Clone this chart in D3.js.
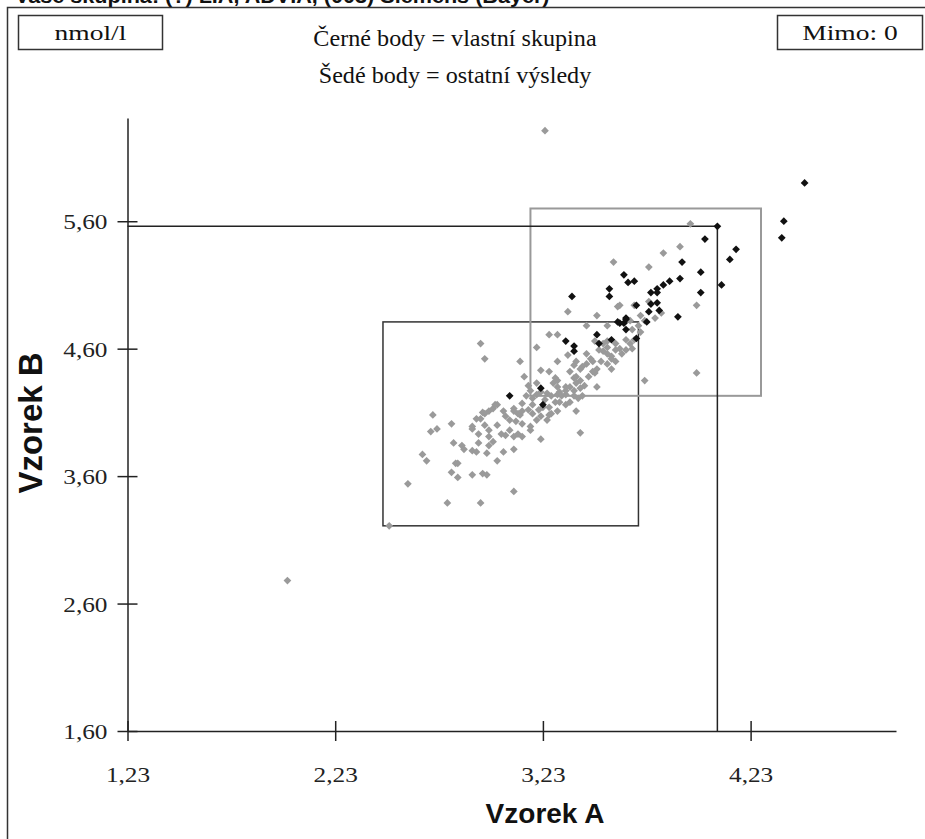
<!DOCTYPE html>
<html>
<head>
<meta charset="utf-8">
<script src="https://cdn.jsdelivr.net/npm/d3@7"></script>
<style>
  html, body { margin: 0; padding: 0; background: #fff; }
  svg { display: block; }
</style>
</head>
<body>
<div id="chart"></div>
<script>
// ---------- data ----------
const titleText = "Vaše skupina: (?) LIA, ADVIA, (003) Siemens (Bayer)";
const unitLabel = "nmol/l";
const outsideLabel = "Mimo: 0";
const legendBlack = "Černé body = vlastní skupina";
const legendGray = "Šedé body = ostatní výsledy";
const xTitle = "Vzorek A";
const yTitle = "Vzorek B";
const xTicks = [1.23, 2.23, 3.23, 4.23];
const yTicks = [1.60, 2.60, 3.60, 4.60, 5.60];
const xDomain = [1.23, 4.93];
const yDomain = [1.60, 6.41];

// own group (black) points [A, B]
const ownPoints = [
  [4.07,5.56],[4.39,5.60],[4.38,5.47],[4.01,5.46],[4.16,5.38],[4.13,5.30],[3.90,5.28],
  [3.99,5.20],[3.62,5.18],[3.64,5.12],[3.67,5.13],[3.89,5.15],[3.84,5.13],[3.81,5.10],
  [4.09,5.10],[3.55,5.07],[3.78,5.07],[3.75,5.04],[3.78,5.04],[3.99,5.04],[3.37,5.01],
  [3.55,5.01],[3.75,4.95],[3.78,4.96],[3.68,4.94],[3.79,4.90],[3.74,4.89],[3.88,4.85],
  [3.63,4.84],[3.59,4.81],[3.60,4.80],[3.62,4.80],[3.73,4.81],[3.63,4.75],[3.49,4.71],
  [3.34,4.66],[3.56,4.67],[3.68,4.68],[3.38,4.62],[3.38,4.58],[3.50,4.64],[3.22,4.29],
  [3.07,4.23],[3.23,4.16],[4.49,5.90],[3.63,4.83]
];

// other results (gray) points [A, B]
const otherPoints = [
  [3.24,6.31],[2.00,2.78],[2.49,3.21],[3.94,5.58],[3.89,5.40],[3.81,5.35],[3.57,5.28],
  [3.74,5.24],[3.74,4.97],[3.60,4.94],[3.97,4.94],[3.35,4.89],[3.49,4.86],[3.67,4.94],
  [3.59,4.93],[3.44,4.78],[3.54,4.78],[3.69,4.78],[3.26,4.71],[3.30,4.71],[3.70,4.73],
  [3.66,4.75],[2.93,4.64],[3.48,4.66],[3.54,4.66],[3.58,4.64],[3.63,4.67],[3.66,4.60],
  [3.20,4.61],[2.95,4.52],[3.12,4.50],[3.30,4.50],[3.35,4.55],[3.39,4.50],[3.38,4.47],
  [3.41,4.44],[3.44,4.48],[3.47,4.50],[3.49,4.44],[3.48,4.41],[3.52,4.58],[3.54,4.56],
  [3.56,4.54],[3.58,4.59],[3.60,4.60],[3.51,4.50],[3.54,4.48],[3.56,4.44],[3.22,4.43],
  [3.14,4.38],[3.26,4.42],[3.29,4.37],[3.30,4.35],[3.28,4.33],[3.36,4.42],[3.38,4.37],
  [3.39,4.38],[3.41,4.35],[3.34,4.30],[3.36,4.30],[3.38,4.27],[3.43,4.31],[3.49,4.30],
  [3.72,4.35],[3.97,4.41],[3.20,4.33],[3.15,4.23],[3.18,4.21],[3.20,4.24],[3.25,4.25],
  [3.27,4.23],[3.30,4.24],[3.32,4.23],[3.34,4.24],[3.38,4.23],[3.40,4.21],[3.42,4.23],
  [3.13,4.17],[3.18,4.16],[3.26,4.14],[3.31,4.18],[3.34,4.16],[3.39,4.11],[3.01,4.16],
  [2.99,4.13],[3.04,4.11],[3.09,4.13],[3.12,4.08],[3.07,4.04],[2.91,4.05],[2.95,4.09],
  [2.89,3.99],[3.18,4.09],[3.22,4.07],[3.25,4.04],[3.26,4.08],[2.70,4.08],[3.00,4.16],
  [2.97,4.11],[2.94,4.10],[3.09,4.11],[3.11,4.09],[3.13,4.11],[3.16,4.12],[3.21,4.12],
  [3.23,4.14],[3.05,4.07],[3.10,4.03],[3.13,4.01],[3.17,3.99],[3.20,4.04],[3.27,4.09],
  [3.30,4.11],[2.79,4.01],[2.69,3.95],[2.72,3.97],[2.92,3.93],[2.95,4.00],[2.97,3.96],
  [3.01,4.00],[3.03,3.93],[3.05,3.92],[3.07,3.96],[3.09,3.91],[3.11,3.93],[3.13,3.91],
  [3.17,3.96],[2.97,3.91],[2.99,3.87],[2.97,3.84],[3.22,3.89],[2.92,3.86],[2.80,3.86],
  [2.84,3.84],[2.85,3.81],[2.89,3.80],[2.91,3.79],[2.96,3.78],[3.04,3.79],[3.09,3.81],
  [3.01,3.72],[2.65,3.77],[2.67,3.72],[2.81,3.70],[2.82,3.70],[2.79,3.63],[2.82,3.59],
  [2.89,3.61],[2.94,3.62],[2.96,3.61],[2.58,3.54],[3.09,3.48],[2.77,3.39],[2.93,3.39],
  [3.41,3.94],[3.52,4.64],[3.50,4.59],[3.54,4.61],[3.56,4.52],[3.58,4.50],[3.61,4.56],
  [3.63,4.59],[3.65,4.64],[3.67,4.67],[3.44,4.56],[3.46,4.52],[3.42,4.46],[3.47,4.42],
  [3.45,4.38],[3.39,4.33],[3.41,4.29],[3.34,4.27],[3.31,4.26],[3.30,4.30],[3.24,4.20],
  [3.29,4.18],[3.36,4.18],[3.22,4.26],[3.17,4.27],[3.16,4.31],[3.72,4.82],[3.77,4.84],
  [3.80,4.88],[3.70,4.86],[3.65,4.82],[2.89,3.97],[2.93,4.05]
];

// reference ranges and target
const ownRange = { a: [3.17, 4.28], b: [4.23, 5.70] };   // gray box
const allRange = { a: [2.46, 3.69], b: [3.21, 4.81] };   // black box
const target = { a: 4.07, b: 5.56 };

// ---------- drawing ----------
const W = 925, H = 839;
const svg = d3.select("#chart").append("svg").attr("width", W).attr("height", H);

const serif = "'Liberation Serif', 'Times New Roman', serif";
const sans = "'Liberation Sans', Arial, sans-serif";
const fmt = v => d3.format(".2f")(v).replace(".", ",");

// widen text horizontally (reference glyphs are wider than the font)
function widen(sel, f) {
  sel.each(function () {
    const L = this.getComputedTextLength();
    d3.select(this).attr("textLength", L * f).attr("lengthAdjust", "spacingAndGlyphs");
  });
}

// title (clipped at top)
const tt = svg.append("text").attr("x", 15).attr("y", 3)
  .attr("font-family", sans).attr("font-weight", "bold").attr("font-size", 20)
  .attr("fill", "#111").text(titleText);
widen(tt, 1.08);

// outer frame
svg.append("rect").attr("x", 7.5).attr("y", 7.5).attr("width", W).attr("height", H)
  .attr("fill", "none").attr("stroke", "#333").attr("stroke-width", 1.5);

// header boxes
function box(x, y, w, h, label) {
  svg.append("rect").attr("x", x).attr("y", y).attr("width", w).attr("height", h)
    .attr("fill", "#fff").attr("stroke", "#333").attr("stroke-width", 1.5);
  const t = svg.append("text").attr("x", x + w / 2).attr("y", y + h / 2).attr("dy", "0.35em")
    .attr("text-anchor", "middle").attr("font-family", serif).attr("font-size", 22)
    .attr("fill", "#111").text(label);
  widen(t, 1.25);
}
box(18.5, 15.5, 144, 34, unitLabel);
box(777.5, 15.5, 145, 34, outsideLabel);

const l1 = svg.append("text").attr("x", 455).attr("y", 38).attr("dy", "0.35em")
  .attr("text-anchor", "middle").attr("font-family", serif).attr("font-size", 23)
  .attr("fill", "#111").text(legendBlack);
const l2 = svg.append("text").attr("x", 455).attr("y", 75).attr("dy", "0.35em")
  .attr("text-anchor", "middle").attr("font-family", serif).attr("font-size", 23)
  .attr("fill", "#111").text(legendGray);
widen(l1, 1.05);
widen(l2, 1.05);

const x = d3.scaleLinear().domain(xDomain).range([127.5, 896]);
const y = d3.scaleLinear().domain(yDomain).range([731, 118]);

// reference boxes
svg.append("rect")
  .attr("x", x(allRange.a[0])).attr("y", y(allRange.b[1]))
  .attr("width", x(allRange.a[1]) - x(allRange.a[0]))
  .attr("height", y(allRange.b[0]) - y(allRange.b[1]))
  .attr("fill", "none").attr("stroke", "#333").attr("stroke-width", 1.5);
svg.append("rect")
  .attr("x", x(ownRange.a[0])).attr("y", y(ownRange.b[1]))
  .attr("width", x(ownRange.a[1]) - x(ownRange.a[0]))
  .attr("height", y(ownRange.b[0]) - y(ownRange.b[1]))
  .attr("fill", "none").attr("stroke", "#999").attr("stroke-width", 2);

// target lines
svg.append("path")
  .attr("d", `M${x(xDomain[0])},${y(target.b)}H${x(target.a)}V${y(yDomain[0])}`)
  .attr("fill", "none").attr("stroke", "#222").attr("stroke-width", 1.5);

// axes
const xAxis = d3.axisBottom(x).tickValues(xTicks).tickFormat(fmt).tickSizeOuter(0).tickSizeInner(10);
const gx = svg.append("g").attr("transform", `translate(0,${y(yDomain[0])})`).call(xAxis);
gx.select(".domain").attr("stroke", "#222").attr("stroke-width", 1.5);
gx.selectAll(".tick line").attr("y1", -10).attr("y2", 10).attr("stroke", "#222").attr("stroke-width", 1.5);
gx.selectAll(".tick text").attr("y", 43).attr("dy", "0.35em")
  .attr("font-family", serif).attr("font-size", 22).attr("fill", "#222");
widen(gx.selectAll(".tick text"), 1.15);

const yAxis = d3.axisLeft(y).tickValues(yTicks).tickFormat(fmt).tickSizeOuter(0).tickSizeInner(10);
const gy = svg.append("g").attr("transform", `translate(${x(xDomain[0])},0)`).call(yAxis);
gy.select(".domain").attr("stroke", "#222").attr("stroke-width", 1.5);
gy.selectAll(".tick line").attr("x1", -10).attr("x2", 10).attr("stroke", "#222").attr("stroke-width", 1.5);
gy.selectAll(".tick text").attr("x", -20).attr("dy", "0.35em")
  .attr("font-family", serif).attr("font-size", 22).attr("fill", "#222");
widen(gy.selectAll(".tick text"), 1.15);

// axis titles
svg.append("text").attr("x", 545).attr("y", 813).attr("dy", "0.35em")
  .attr("text-anchor", "middle").attr("font-family", sans).attr("font-weight", "bold")
  .attr("font-size", 28).attr("fill", "#111").text(xTitle);
svg.append("text").attr("transform", "translate(30,423) rotate(-90)").attr("dy", "0.35em")
  .attr("text-anchor", "middle").attr("font-family", sans).attr("font-weight", "bold")
  .attr("font-size", 33).attr("fill", "#111").text(yTitle);

// points
const sym = d3.symbol().type(d3.symbolSquare).size(30);
svg.append("g").selectAll("path").data(otherPoints).join("path")
  .attr("d", sym)
  .attr("transform", d => `translate(${x(d[0])},${y(d[1])}) rotate(45)`)
  .attr("fill", "#9a9a9a");
svg.append("g").selectAll("path").data(ownPoints).join("path")
  .attr("d", sym)
  .attr("transform", d => `translate(${x(d[0])},${y(d[1])}) rotate(45)`)
  .attr("fill", "#111");
</script>
</body>
</html>
